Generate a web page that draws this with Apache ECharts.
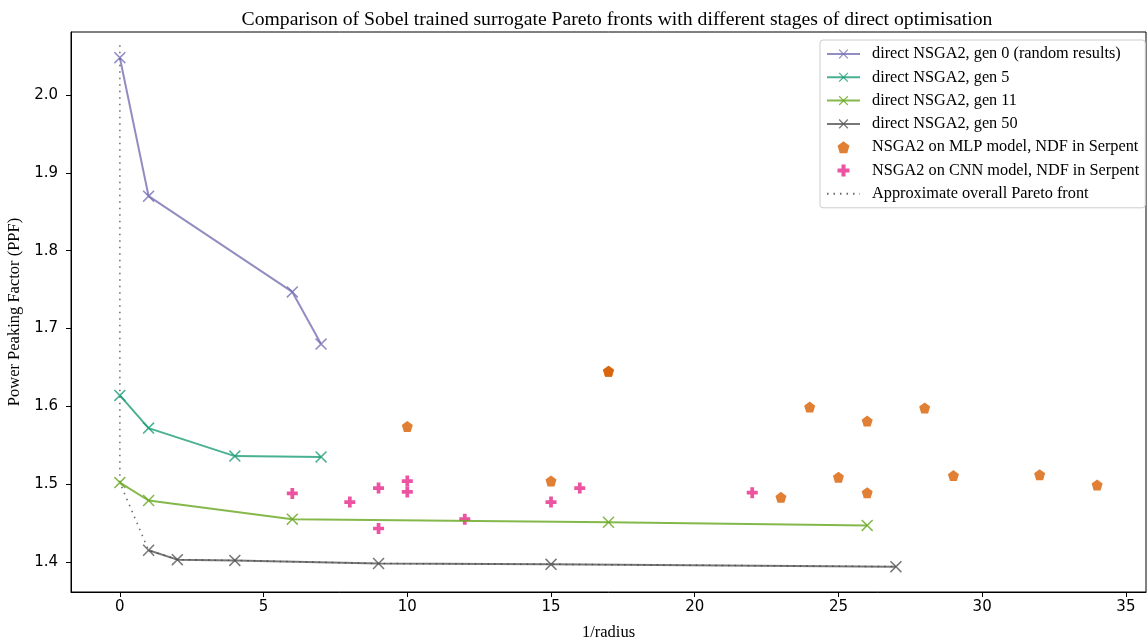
<!DOCTYPE html>
<html>
<head>
<meta charset="utf-8">
<script src="https://cdn.jsdelivr.net/npm/echarts@6/dist/echarts.min.js"></script>
<style>
  html, body { margin: 0; padding: 0; background: #fff; }
  #chart { width: 1148px; height: 639px; }
</style>
</head>
<body>
<div id="chart"></div>
<script>
// data
const gen0X = [0, 1, 6, 7]
const gen0Y = [2.048, 1.870, 1.747, 1.680]
const gen5X = [0, 1, 4, 7]
const gen5Y = [1.614, 1.572, 1.536, 1.535]
const gen11X = [0, 1, 6, 17, 26]
const gen11Y = [1.502, 1.479, 1.455, 1.451, 1.447]
const gen50X = [1, 2, 4, 9, 15, 27]
const gen50Y = [1.415, 1.403, 1.402, 1.398, 1.397, 1.394]
const mlpX = [10, 17, 17, 15, 24, 26, 28, 23, 25, 26, 29, 32, 34]
const mlpY = [1.574, 1.645, 1.645, 1.504, 1.599, 1.581, 1.598, 1.483, 1.509, 1.489, 1.511, 1.512, 1.499]
const cnnX = [6, 8, 9, 9, 10, 10, 12, 15, 16, 22]
const cnnY = [1.488, 1.477, 1.495, 1.443, 1.504, 1.490, 1.455, 1.477, 1.495, 1.489]
const paretoX = [0, 0, 1, 2, 4, 9, 15, 27]
const paretoY = [2.064, 1.502, 1.415, 1.403, 1.402, 1.398, 1.397, 1.394]
const xTicks = [0, 5, 10, 15, 20, 25, 30, 35]
const yTicks = [1.4, 1.5, 1.6, 1.7, 1.8, 1.9, 2.0]

const zip = (xs, ys) => xs.map((x, i) => [x, ys[i]])

const SERIF = 'Liberation Serif'
const crossSymbol = 'path://M0,0.9 L0.9,0 L5,4.1 L9.1,0 L10,0.9 L5.9,5 L10,9.1 L9.1,10 L5,5.9 L0.9,10 L0,9.1 L4.1,5 Z'
const pentagonSymbol = 'path://M5,0 L10,3.7 L8.1,10 L1.9,10 L0,3.7 Z'
const plusSymbol = 'path://M3.3,0 H6.7 V3.3 H10 V6.7 H6.7 V10 H3.3 V6.7 H0 V3.3 H3.3 Z'

const lineSeries = (name, xs, ys, color) => ({
  name,
  type: 'line',
  data: zip(xs, ys),
  symbol: crossSymbol,
  symbolSize: 12,
  lineStyle: { color, width: 2, opacity: 0.8 },
  itemStyle: { color, opacity: 0.8 },
  emphasis: { disabled: true }
})

const chart = echarts.init(document.getElementById('chart'))

const option = {
  animation: false,
  title: {
    text: 'Comparison of Sobel trained surrogate Pareto fronts with different stages of direct optimisation',
    left: 612,
    textAlign: 'center',
    top: 5,
    textStyle: { fontFamily: SERIF, fontSize: 19.7, fontWeight: 'normal', color: '#000' }
  },
  legend: {
    orient: 'vertical',
    left: 820,
    top: 40,
    padding: [6, 6, 6, 6],
    backgroundColor: '#fff',
    borderColor: '#ccc',
    borderWidth: 1,
    borderRadius: 3,
    itemWidth: 33,
    itemHeight: 12,
    itemGap: 7.3,
    textStyle: { fontFamily: SERIF, fontSize: 16.3, color: '#000', lineHeight: 16, padding: [0, 0, 0, 7] },
    data: [
      'direct NSGA2, gen 0 (random results)',
      'direct NSGA2, gen 5',
      'direct NSGA2, gen 11',
      'direct NSGA2, gen 50',
      'NSGA2 on MLP model, NDF in Serpent',
      'NSGA2 on CNN model, NDF in Serpent',
      { name: 'Approximate overall Pareto front', itemStyle: { opacity: 0 } }
    ]
  },
  grid: {
    left: 71,
    right: 2,
    top: 32,
    bottom: 47,
    outerBoundsMode: 'none',
    show: true,
    borderColor: '#000',
    borderWidth: 1
  },
  xAxis: {
    type: 'value',
    min: -1.7,
    max: 35.7,
    name: '1/radius',
    nameLocation: 'middle',
    nameGap: 32,
    nameTextStyle: { fontFamily: SERIF, fontSize: 16.5, color: '#000' },
    splitLine: { show: false },
    axisLine: { onZero: false, lineStyle: { color: '#000' } },
    axisTick: { show: true, length: 5, customValues: xTicks, lineStyle: { color: '#000' } },
    axisLabel: {
      customValues: xTicks,
      margin: 8,
      fontFamily: 'DejaVu Sans',
      fontSize: 15,
      color: '#000'
    }
  },
  yAxis: {
    type: 'value',
    min: 1.3614,
    max: 2.081,
    name: 'Power Peaking Factor (PPF)',
    nameLocation: 'middle',
    nameGap: 43,
    nameTextStyle: { fontFamily: SERIF, fontSize: 16.5, color: '#000' },
    splitLine: { show: false },
    axisLine: { show: true, onZero: false, lineStyle: { color: '#000' } },
    axisTick: { show: true, length: 5, customValues: yTicks, lineStyle: { color: '#000' } },
    axisLabel: {
      customValues: yTicks,
      margin: 13,
      fontFamily: 'DejaVu Sans',
      fontSize: 15,
      color: '#000',
      formatter: v => v.toFixed(1)
    }
  },
  series: [
    lineSeries('direct NSGA2, gen 0 (random results)', gen0X, gen0Y, '#7570b3'),
    lineSeries('direct NSGA2, gen 5', gen5X, gen5Y, '#1b9e77'),
    lineSeries('direct NSGA2, gen 11', gen11X, gen11Y, '#66a61e'),
    lineSeries('direct NSGA2, gen 50', gen50X, gen50Y, '#555555'),
    {
      name: 'NSGA2 on MLP model, NDF in Serpent',
      type: 'scatter',
      data: zip(mlpX, mlpY),
      symbol: pentagonSymbol,
      symbolSize: 11,
      itemStyle: { color: '#d95f02', opacity: 0.8 },
      emphasis: { disabled: true }
    },
    {
      name: 'NSGA2 on CNN model, NDF in Serpent',
      type: 'scatter',
      data: zip(cnnX, cnnY),
      symbol: plusSymbol,
      symbolSize: 11,
      itemStyle: { color: '#e7298a', opacity: 0.8 },
      emphasis: { disabled: true }
    },
    {
      name: 'Approximate overall Pareto front',
      type: 'line',
      data: zip(paretoX, paretoY),
      showSymbol: false,
      symbol: 'none',
      lineStyle: { color: '#444', width: 1.5, type: [1.5, 5], opacity: 0.8 },
      itemStyle: { color: '#444' },
      emphasis: { disabled: true }
    }
  ]
}

chart.setOption(option)
</script>
</body>
</html>
